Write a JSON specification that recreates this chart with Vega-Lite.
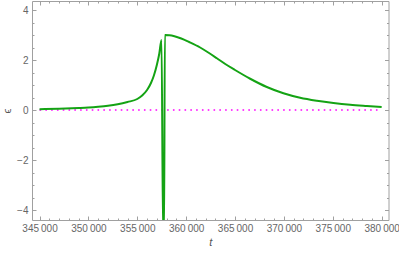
{
  "$schema": "https://vega.github.io/schema/vega-lite/v6.json",
  "width": 356.5,
  "height": 219,
  "autosize": "none",
  "padding": {"left": 32, "top": 1, "right": 10, "bottom": 33},
  "config": {
    "view": {"stroke": "#a0a0a0", "strokeWidth": 1},
    "axis": {"grid": false, "domain": false, "labelFont": "Liberation Sans", "labelFontSize": 10, "labelColor": "#666666", "tickColor": "#a0a0a0", "titleFont": "Liberation Sans", "titleColor": "#555555", "titleFontWeight": "normal", "titleFontSize": 11}
  },
  "datasets": {
    "curve": [
      {"t": 345000, "eps": 0.03},
      {"t": 347000, "eps": 0.05},
      {"t": 349000, "eps": 0.08},
      {"t": 350000, "eps": 0.1},
      {"t": 351000, "eps": 0.13},
      {"t": 352000, "eps": 0.17},
      {"t": 353000, "eps": 0.23},
      {"t": 354000, "eps": 0.32},
      {"t": 355000, "eps": 0.44},
      {"t": 355500, "eps": 0.58},
      {"t": 356000, "eps": 0.8},
      {"t": 356400, "eps": 1.08},
      {"t": 356700, "eps": 1.38},
      {"t": 357000, "eps": 1.8},
      {"t": 357250, "eps": 2.25},
      {"t": 357480, "eps": 2.8},
      {"t": 357640, "eps": -5},
      {"t": 357740, "eps": -5},
      {"t": 357820, "eps": 3.0},
      {"t": 358300, "eps": 2.99},
      {"t": 358800, "eps": 2.95},
      {"t": 359500, "eps": 2.86},
      {"t": 360300, "eps": 2.72},
      {"t": 361430, "eps": 2.5},
      {"t": 362300, "eps": 2.29},
      {"t": 363140, "eps": 2.07},
      {"t": 364000, "eps": 1.84},
      {"t": 365000, "eps": 1.6},
      {"t": 366550, "eps": 1.25},
      {"t": 368250, "eps": 0.92},
      {"t": 369950, "eps": 0.67},
      {"t": 371660, "eps": 0.49},
      {"t": 373370, "eps": 0.37},
      {"t": 375070, "eps": 0.28},
      {"t": 376780, "eps": 0.21},
      {"t": 378490, "eps": 0.16},
      {"t": 380000, "eps": 0.12}
    ],
    "zero": [
      {"t": 345000, "eps": 0},
      {"t": 380000, "eps": 0}
    ]
  },
  "layer": [
    {
      "data": {"name": "zero"},
      "mark": {"type": "line", "color": "#ff00ff", "strokeWidth": 1.6, "strokeDash": [1.6, 4.2], "clip": true},
      "encoding": {
        "x": {"field": "t", "type": "quantitative", "scale": {"domain": [344230, 380700], "nice": false, "zero": false},
          "axis": {"orient": "bottom", "values": [345000, 350000, 355000, 360000, 365000, 370000, 375000, 380000], "labelExpr": "replace(format(datum.value, ','), ',', '\u2009')", "tickSize": -4, "labelPadding": 7, "title": "t", "titleFontStyle": "italic", "titlePadding": 3}},
        "y": {"field": "eps", "type": "quantitative", "scale": {"domain": [-4.4, 4.36], "nice": false, "zero": false},
          "axis": {"orient": "left", "values": [-4, -2, 0, 2, 4], "labelExpr": "replace(format(datum.value, 'd'), '-', '\u2212')", "tickSize": -4, "labelPadding": 8, "title": "ϵ", "titlePadding": 4}}
      }
    },
    {
      "data": {"name": "curve"},
      "mark": {"type": "line", "color": "#14a314", "strokeWidth": 2, "clip": true, "interpolate": "monotone"},
      "encoding": {
        "x": {"field": "t", "type": "quantitative",
          "axis": {"orient": "bottom", "values": [346000, 347000, 348000, 349000, 351000, 352000, 353000, 354000, 356000, 357000, 358000, 359000, 361000, 362000, 363000, 364000, 366000, 367000, 368000, 369000, 371000, 372000, 373000, 374000, 376000, 377000, 378000, 379000], "labels": false, "tickSize": -2, "title": null}},
        "y": {"field": "eps", "type": "quantitative",
          "axis": {"orient": "left", "values": [-3.5, -3, -2.5, -1.5, -1, -0.5, 0.5, 1, 1.5, 2.5, 3, 3.5], "labels": false, "tickSize": -2, "title": null}}
      }
    },
    {
      "data": {"name": "zero"},
      "mark": {"type": "line", "opacity": 0},
      "encoding": {
        "x": {"field": "t", "type": "quantitative",
          "axis": {"orient": "top", "values": [345000, 350000, 355000, 360000, 365000, 370000, 375000, 380000], "labels": false, "tickSize": -4, "title": null}},
        "y": {"field": "eps", "type": "quantitative",
          "axis": {"orient": "right", "values": [-4, -2, 0, 2, 4], "labels": false, "tickSize": -4, "title": null}}
      }
    },
    {
      "data": {"name": "zero"},
      "mark": {"type": "line", "opacity": 0},
      "encoding": {
        "x": {"field": "t", "type": "quantitative",
          "axis": {"orient": "top", "values": [346000, 347000, 348000, 349000, 351000, 352000, 353000, 354000, 356000, 357000, 358000, 359000, 361000, 362000, 363000, 364000, 366000, 367000, 368000, 369000, 371000, 372000, 373000, 374000, 376000, 377000, 378000, 379000], "labels": false, "tickSize": -2, "title": null}},
        "y": {"field": "eps", "type": "quantitative",
          "axis": {"orient": "right", "values": [-3.5, -3, -2.5, -1.5, -1, -0.5, 0.5, 1, 1.5, 2.5, 3, 3.5], "labels": false, "tickSize": -2, "title": null}}
      }
    }
  ],
  "resolve": {"axis": {"x": "independent", "y": "independent"}}
}
